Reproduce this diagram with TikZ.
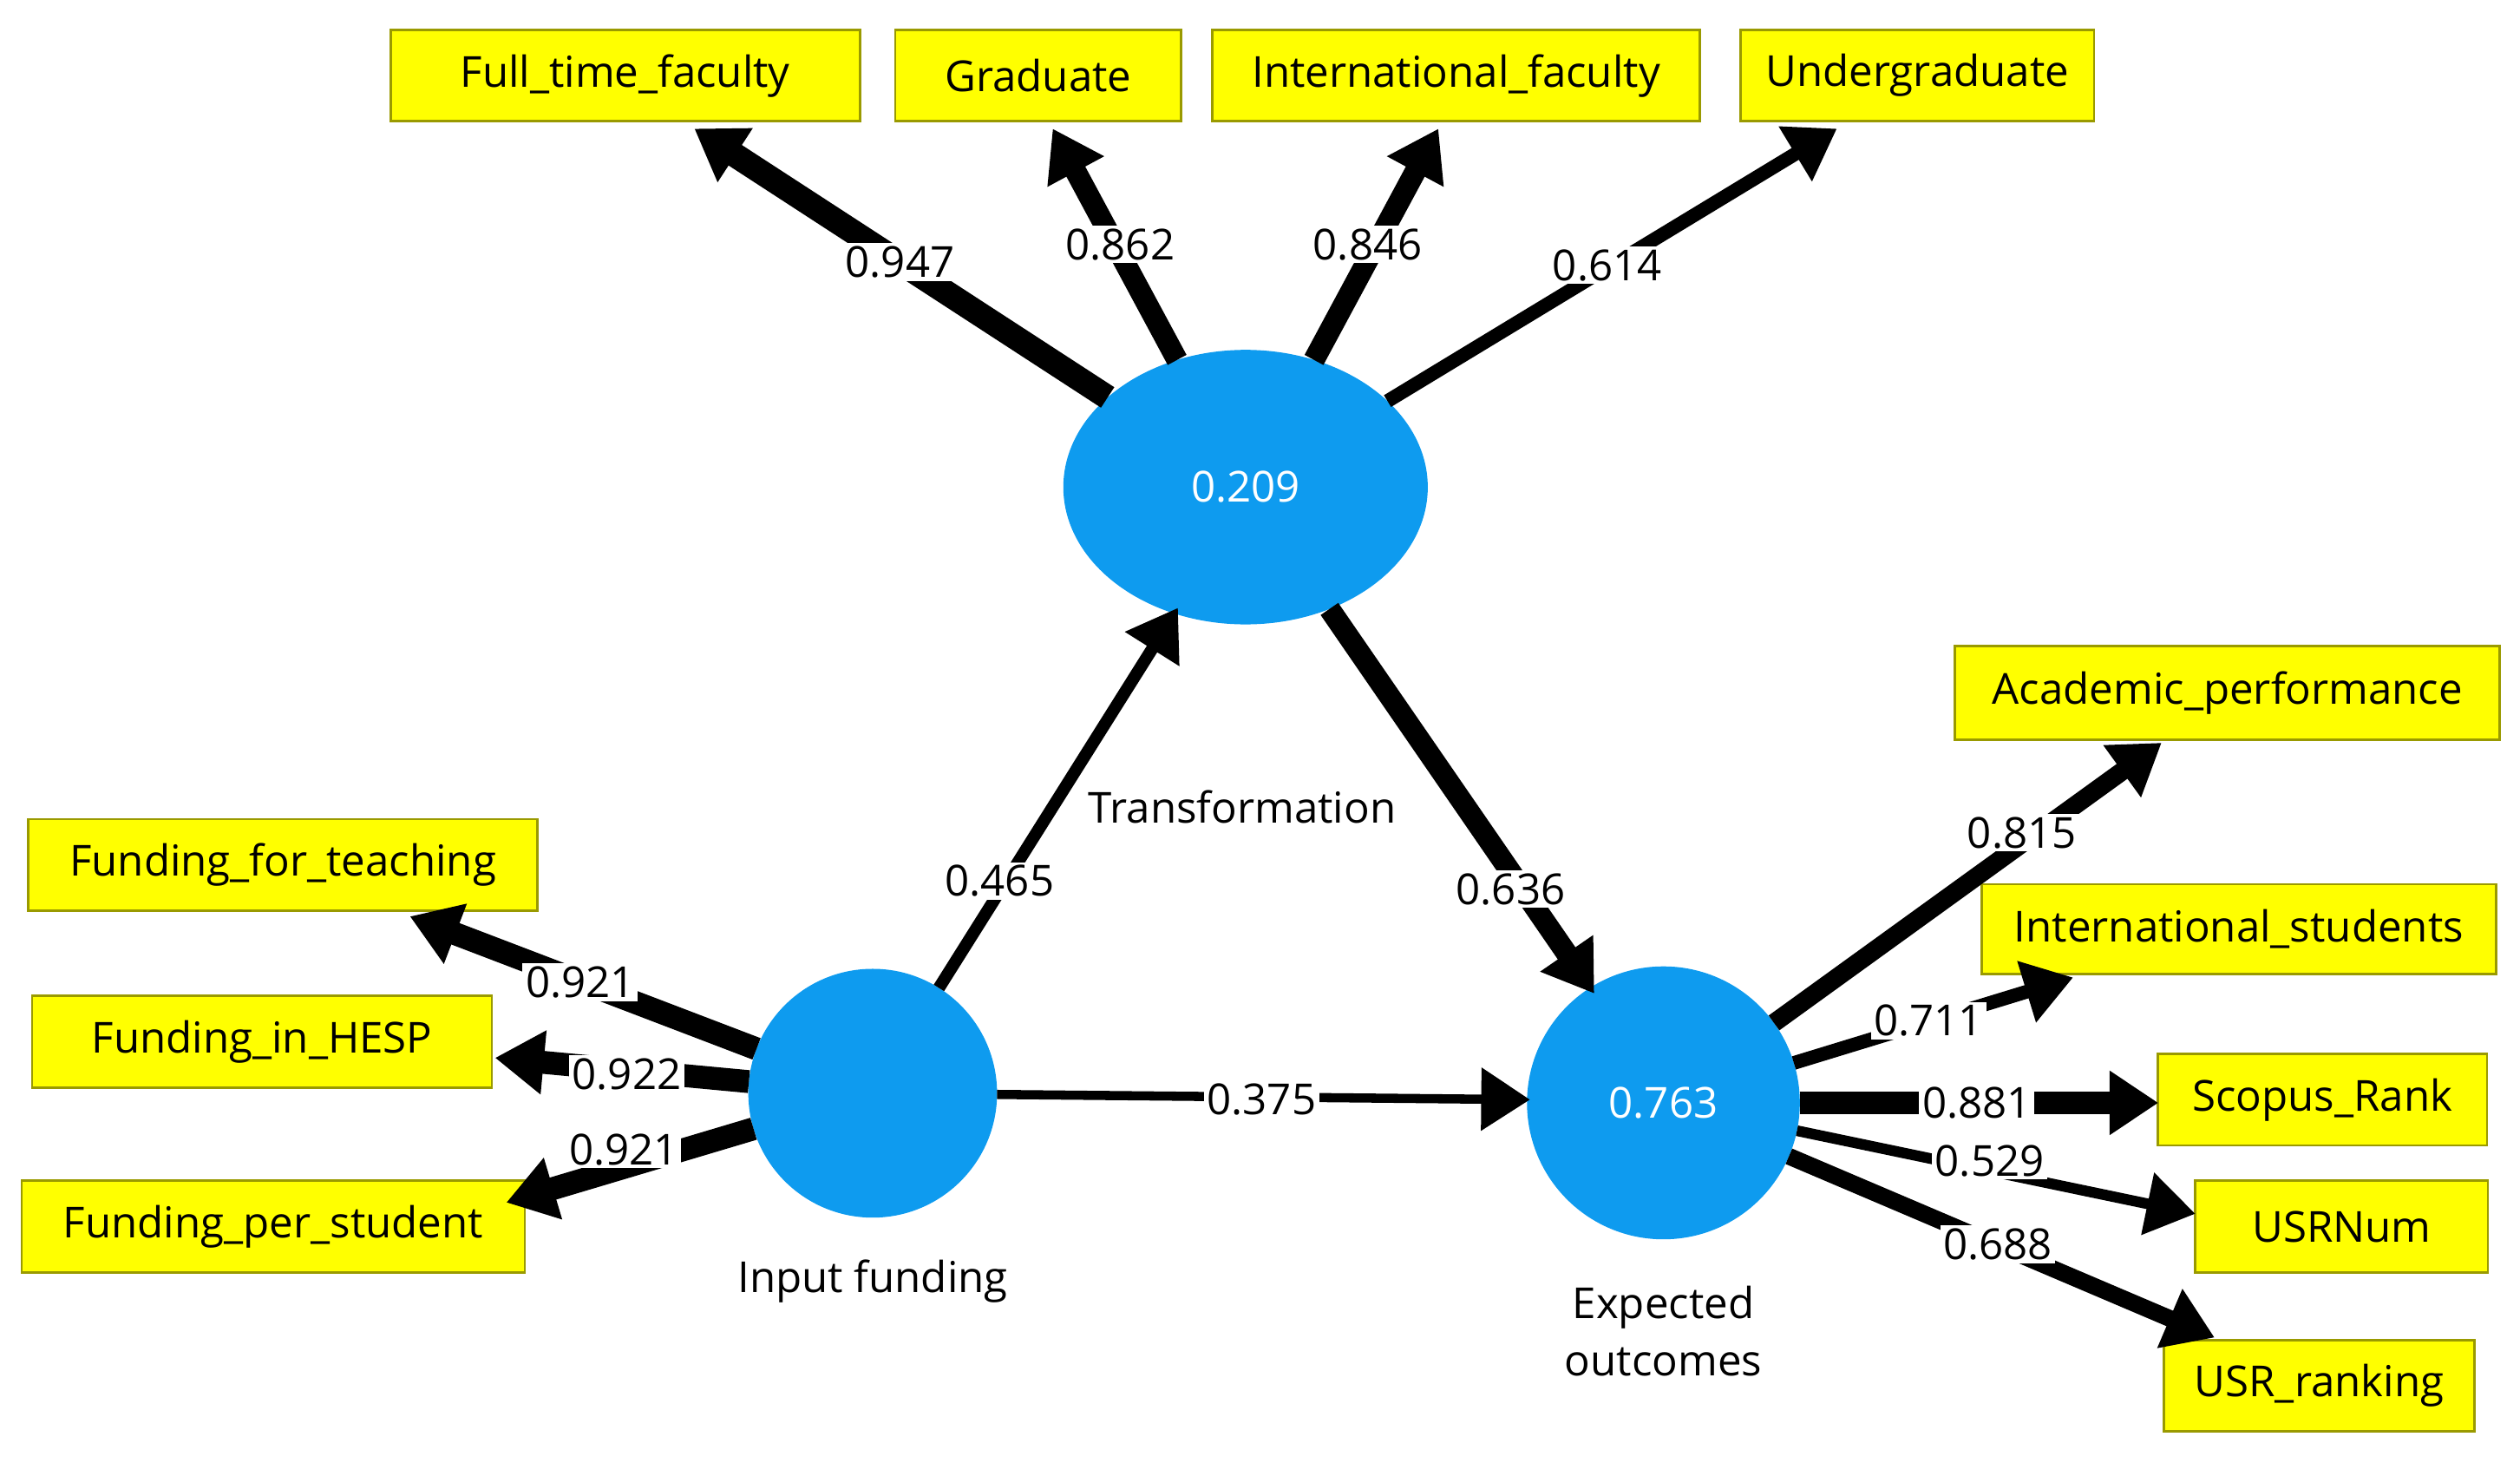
\documentclass[tikz,border=0pt]{standalone}
\usepackage{fontspec}
\setmainfont{Open Sans}
\usetikzlibrary{arrows.meta,shapes.geometric}
\definecolor{lv}{HTML}{0E9BEF}
\definecolor{yb}{HTML}{FFFF00}
\definecolor{yd}{HTML}{9A9A00}
\begin{document}
\begin{tikzpicture}[x=0.01853cm,y=-0.01853cm,
 box/.style={draw=yd,line width=0.8pt,fill=yb,inner sep=0pt,font=\fontsize{14}{16}\selectfont},
 lab/.style={fill=white,inner sep=1pt,font=\fontsize{14}{16}\selectfont},
 conn/.style={line width=#1,-{Triangle[length=16pt,width=20pt]}},
 note/.style={font=\fontsize{14}{16}\selectfont,align=center}]
\useasboundingbox (0,0) rectangle (1568,910);
% boxes
\node[box,minimum width=292*0.01853cm,minimum height=57*0.01853cm] (b1) at (389,47) {Full\_time\_faculty};
\node[box,minimum width=178*0.01853cm,minimum height=57*0.01853cm] (b2) at (646,47) {Graduate};
\node[box,minimum width=303*0.01853cm,minimum height=57*0.01853cm] (b3) at (906,47) {International\_faculty};
\node[box,minimum width=220*0.01853cm,minimum height=57*0.01853cm] (b4) at (1193,47) {Undergraduate};
\node[box,minimum width=317*0.01853cm,minimum height=57*0.01853cm] (f1) at (176,538) {Funding\_for\_teaching};
\node[box,minimum width=286*0.01853cm,minimum height=57*0.01853cm] (f2) at (163,648) {Funding\_in\_HESP};
\node[box,minimum width=313*0.01853cm,minimum height=57*0.01853cm] (f3) at (170,763) {Funding\_per\_student};
\node[box,minimum width=339*0.01853cm,minimum height=58*0.01853cm] (o1) at (1386,431) {Academic\_performance};
\node[box,minimum width=320*0.01853cm,minimum height=56*0.01853cm] (o2) at (1393,578) {International\_students};
\node[box,minimum width=205*0.01853cm,minimum height=57*0.01853cm] (o3) at (1445,684) {Scopus\_Rank};
\node[box,minimum width=182*0.01853cm,minimum height=57*0.01853cm] (o4) at (1457,763) {USRNum};
\node[box,minimum width=193*0.01853cm,minimum height=57*0.01853cm] (o5) at (1443,862) {USR\_ranking};
% latent variables
\node[ellipse,fill=lv,draw=lv,minimum width=226*0.01853cm,minimum height=170*0.01853cm,inner sep=0pt,text=white,font=\fontsize{14}{16}\selectfont] (T) at (775,303) {0.209};
\node[circle,fill=lv,draw=lv,minimum size=154*0.01853cm,inner sep=0pt] (I) at (543,680) {};
\node[circle,fill=lv,draw=lv,minimum size=169*0.01853cm,inner sep=0pt,text=white,font=\fontsize{14}{16}\selectfont] (E) at (1035,686) {0.763};
\node[note] (tT) at (773,502) {Transformation};
\node[note] (tI) at (543,797) {Input funding};
\node[note,font=\fontsize{14}{19}\selectfont] (tE) at (1035,828) {Expected\\outcomes};
% tips
\coordinate (a1) at (432,80); \coordinate (a2) at (655,80);
\coordinate (a3) at (895,80); \coordinate (a4) at (1143,80);
\coordinate (aIT) at (733,378); \coordinate (aTE) at (992,618);
\coordinate (aIE) at (952,684);
\coordinate (c1) at (255,570); \coordinate (c2) at (308,658); \coordinate (c3) at (315,748);
\coordinate (d1) at (1345,462); \coordinate (d2) at (1290,608); \coordinate (d3) at (1343,686);
\coordinate (d4) at (1366,755); \coordinate (d5) at (1378,832);
% connectors
\draw[conn=8pt] (T) -- (a1);
\draw[conn=7pt] (T) -- (a2);
\draw[conn=7pt] (T) -- (a3);
\draw[conn=4.5pt] (T) -- (a4);
\draw[conn=4pt] (I) -- (aIT);
\draw[conn=7pt] (T) -- (aTE);
\draw[conn=3pt] (I) -- (aIE);
\draw[conn=7.5pt] (I) -- (c1);
\draw[conn=7.5pt] (I) -- (c2);
\draw[conn=7.5pt] (I) -- (c3);
\draw[conn=6pt] (E) -- (d1);
\draw[conn=4.5pt] (E) -- (d2);
\draw[conn=7.5pt] (E) -- (d3);
\draw[conn=3.5pt] (E) -- (d4);
\draw[conn=5.5pt] (E) -- (d5);
% labels
\node[lab] (l1) at (560,163) {0.947};
\node[lab] (l2) at (697,152) {0.862};
\node[lab] (l3) at (851,152) {0.846};
\node[lab] (l4) at (1000,165) {0.614};
\node[lab] (l5) at (622,548) {0.465};
\node[lab] (l6) at (940,553) {0.636};
\node[lab] (l7) at (785,684) {0.375};
\node[lab] (l8) at (361,611) {0.921};
\node[lab] (l9) at (390,668) {0.922};
\node[lab] (l10) at (388,715) {0.921};
\node[lab] (l11) at (1258,518) {0.815};
\node[lab] (l12) at (1200,635) {0.711};
\node[lab] (l13) at (1230,686) {0.881};
\node[lab] (l14) at (1238,722) {0.529};
\node[lab] (l15) at (1243,774) {0.688};
\end{tikzpicture}
\end{document}
